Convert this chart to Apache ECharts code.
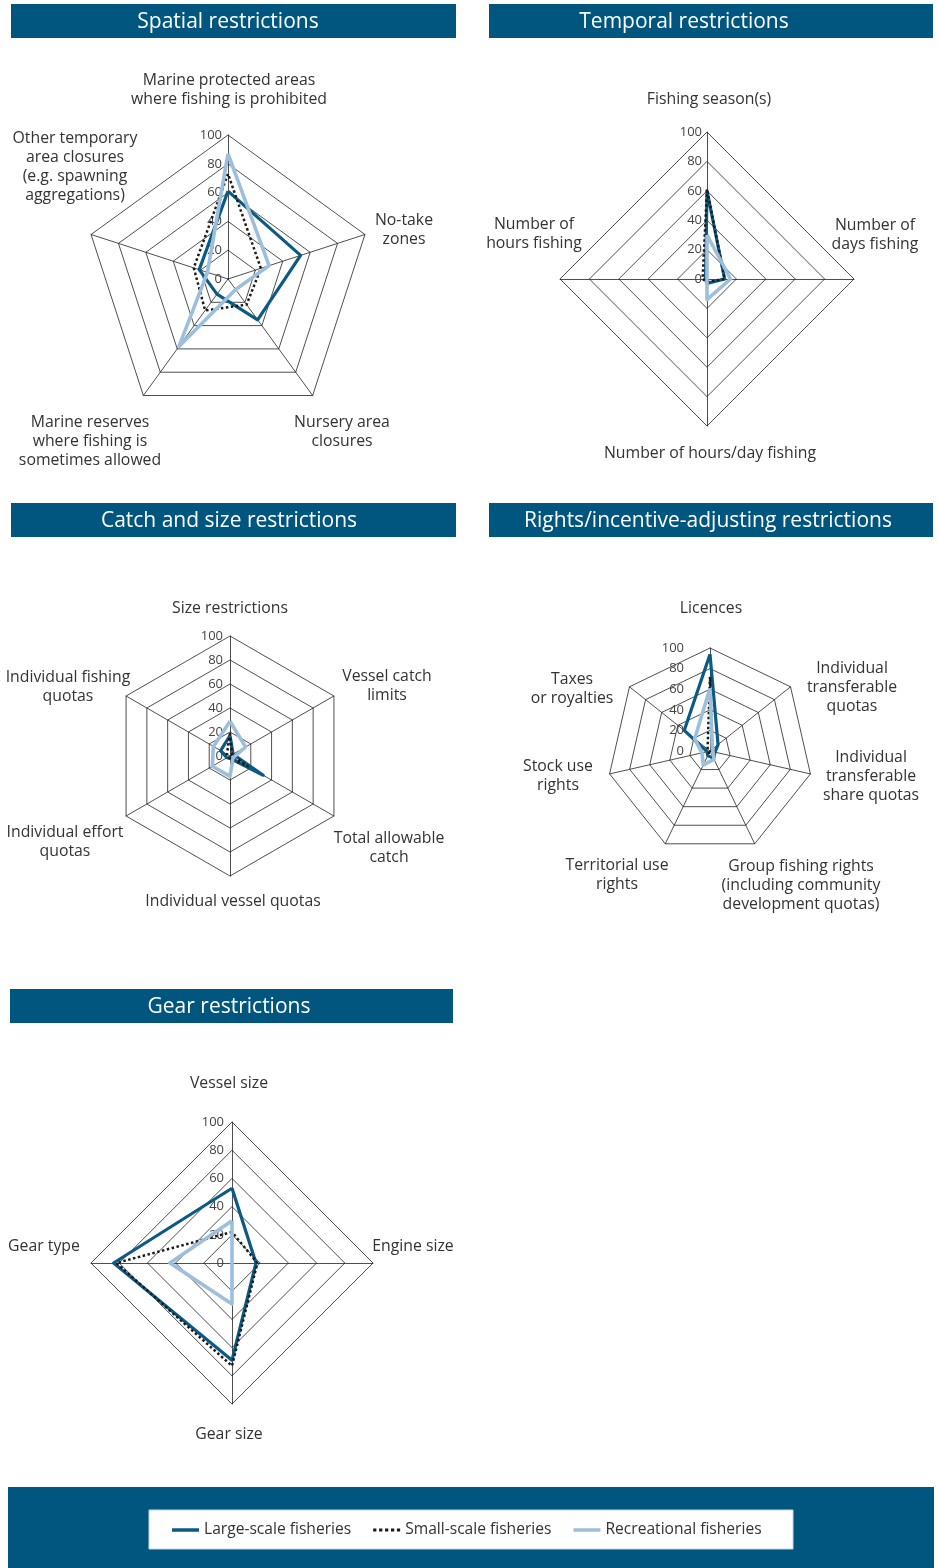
<!DOCTYPE html>
<html><head><meta charset="utf-8">
<script src="https://cdn.jsdelivr.net/npm/echarts@6/dist/echarts.min.js"></script>
<style>html,body{margin:0;padding:0;background:#fff}#c{width:939px;height:1568px}</style>
</head><body><div id="c"></div>
<script>
// ---------- DATA ----------
const seriesNames = ['Large-scale fisheries', 'Small-scale fisheries', 'Recreational fisheries'];
const tickValues = [0, 20, 40, 60, 80, 100];

const spatialTitle = 'Spatial restrictions';
const spatialCats = ['Marine protected areas\nwhere fishing is prohibited', 'No-take\nzones', 'Nursery area\nclosures', 'Marine reserves\nwhere fishing is\nsometimes allowed', 'Other temporary\narea closures\n(e.g. spawning\naggregations)'];
const spatialLarge = [61, 53, 35, 13, 21];
const spatialSmall = [73, 24, 22, 27, 25];
const spatialRec   = [87, 30, 9, 58, 15];

const temporalTitle = 'Temporal restrictions';
const temporalCats = ['Fishing season(s)', 'Number of\ndays fishing', 'Number of hours/day fishing', 'Number of\nhours fishing'];
const temporalLarge = [60, 12, 3, 1];
const temporalSmall = [61, 12, 2, 3];
const temporalRec   = [30, 16, 14, 0];

const catchTitle = 'Catch and size restrictions';
const catchCats = ['Size restrictions', 'Vessel catch\nlimits', 'Total allowable\ncatch', 'Individual vessel quotas', 'Individual effort\nquotas', 'Individual fishing\nquotas'];
const catchLarge = [17, 3, 32, 2, 3, 9];
const catchSmall = [19, 2, 17, 2, 2, 3];
const catchRec   = [29, 15, 3, 17, 17, 16];

const rightsTitle = 'Rights/incentive-adjusting restrictions';
const rightsCats = ['Licences', 'Individual\ntransferable\nquotas', 'Individual\ntransferable\nshare quotas', 'Group fishing rights\n(including community\ndevelopment quotas)', 'Territorial use\nrights', 'Stock use\nrights', 'Taxes\nor royalties'];
const rightsLarge = [94, 10, 5, 8, 5, 3, 32];
const rightsSmall = [72, 3, 2, 2, 2, 2, 3];
const rightsRec   = [61, 3, 3, 9, 15, 8, 19];

const gearTitle = 'Gear restrictions';
const gearCats = ['Vessel size', 'Engine size', 'Gear size', 'Gear type'];
const gearLarge = [53, 17, 69, 84];
const gearSmall = [22, 18, 73, 82];
const gearRec   = [30, 0, 29, 44];

// ---------- LAYOUT / STYLE ----------
const FONT = '"Open Sans", sans-serif';
const HEADER = '#00567f';
const TEXT = '#333333';
const lineStyles = [
  {color: '#0b5a84', width: 3.2, type: 'solid'},
  {color: '#1a1a1a', width: 2.5, type: 'dotted'},
  {color: '#9dbfdb', width: 3.6, type: 'solid'}
];

const panels = [
  {title: spatialTitle, cats: spatialCats, vals: [spatialLarge, spatialSmall, spatialRec],
   header: [11, 4, 445, 34], titleX: 228, center: [228, 279], radius: 144, margin: 6,
   labelPos: [[229, 89.5], [404, 229.5], [342, 431.5], [90, 441], [75, 167]]},
  {title: temporalTitle, cats: temporalCats, vals: [temporalLarge, temporalSmall, temporalRec],
   header: [489, 4, 444, 34], titleX: 684, center: [707, 279], radius: 147, margin: 5,
   labelPos: [[709, 99], [875, 235], [710, 453], [534, 234]]},
  {title: catchTitle, cats: catchCats, vals: [catchLarge, catchSmall, catchRec],
   header: [11, 503, 445, 34], titleX: 229, center: [230, 756], radius: 120, margin: 7,
   labelPos: [[230, 608], [387, 686], [389, 848], [233, 901], [65, 842], [68, 687]]},
  {title: rightsTitle, cats: rightsCats, vals: [rightsLarge, rightsSmall, rightsRec],
   header: [489, 503, 444, 34], titleX: 708, center: [710, 751], radius: 103, margin: 26,
   labelPos: [[711, 608], [852, 687], [871, 776], [801, 885], [617, 875], [558, 776], [572, 689]]},
  {title: gearTitle, cats: gearCats, vals: [gearLarge, gearSmall, gearRec],
   header: [10, 989, 443, 34], titleX: 229, center: [232, 1263], radius: 141, margin: 8,
   labelPos: [[229, 1083], [413, 1246], [229, 1434], [44, 1246]]}
];

// ECharts radar runs counter-clockwise; reorder so the reference clockwise order is kept
const ccw = arr => [arr[0]].concat(arr.slice(1).reverse());

const graphics = [];
panels.forEach(p => {
  const [x, y, w, h] = p.header;
  graphics.push({type: 'rect', shape: {x, y, width: w, height: h}, style: {fill: HEADER}, silent: true});
  graphics.push({type: 'text', x: p.titleX, y: y + h / 2 + 1, silent: true,
    style: {text: p.title, fill: '#fff', font: '21px ' + FONT, align: 'center', verticalAlign: 'middle'}});
  p.cats.forEach((c, i) => {
    graphics.push({type: 'text', x: p.labelPos[i][0], y: p.labelPos[i][1], silent: true,
      style: {text: c, fill: TEXT, font: '15.8px ' + FONT, align: 'center', verticalAlign: 'middle', lineHeight: 19}});
  });
});
// legend band
graphics.push({type: 'rect', shape: {x: 8, y: 1487, width: 926, height: 81}, style: {fill: HEADER}, silent: true, z: -2});
graphics.push({type: 'rect', shape: {x: 149, y: 1510, width: 644, height: 39}, style: {fill: '#fff', stroke: '#c8d6e0', lineWidth: 1}, silent: true, z: -1});

const option = {
  animation: false,
  backgroundColor: '#fff',
  graphic: {elements: graphics},
  legend: {
    z: 10, left: 167, top: 1517, itemWidth: 27, itemHeight: 14, itemGap: 22, selectedMode: false,
    textStyle: {fontFamily: FONT, fontSize: 15.6, color: TEXT},
    data: [
      {name: seriesNames[0], icon: 'path://M0 0h27v3.5h-27z', itemStyle: {color: lineStyles[0].color}},
      {name: seriesNames[1], icon: 'path://M0 0h3v3h-3zM5.5 0h3v3h-3zM11 0h3v3h-3zM16.5 0h3v3h-3zM22 0h3v3h-3z', itemStyle: {color: lineStyles[1].color}},
      {name: seriesNames[2], icon: 'path://M0 0h27v3.5h-27z', itemStyle: {color: lineStyles[2].color}}
    ]
  },
  radar: panels.map(p => ({
    center: p.center, radius: p.radius, shape: 'polygon', startAngle: 90,
    splitNumber: tickValues.length - 1,
    indicator: ccw(p.cats).map((c, j) => ({
      name: c, min: tickValues[0], max: tickValues[tickValues.length - 1],
      axisLabel: j === 0 ? {show: true, margin: p.margin, color: '#444', fontSize: 13, fontFamily: FONT} : {show: false}
    })),
    axisName: {show: false},
    axisLine: {lineStyle: {color: '#222', width: 0.8}},
    splitLine: {lineStyle: {color: '#222', width: 0.8}},
    splitArea: {show: false},
    axisTick: {show: false},
    axisLabel: {show: false}
  })),
  series: panels.map((p, i) => ({
    type: 'radar', radarIndex: i, symbol: 'none', silent: true,
    data: p.vals.map((v, k) => ({
      name: seriesNames[k], value: ccw(v),
      lineStyle: lineStyles[k], itemStyle: {color: lineStyles[k].color}
    }))
  }))
};

const chart = echarts.init(document.getElementById('c'), null, {renderer: 'canvas'});
chart.setOption(option);
</script>
</body></html>
